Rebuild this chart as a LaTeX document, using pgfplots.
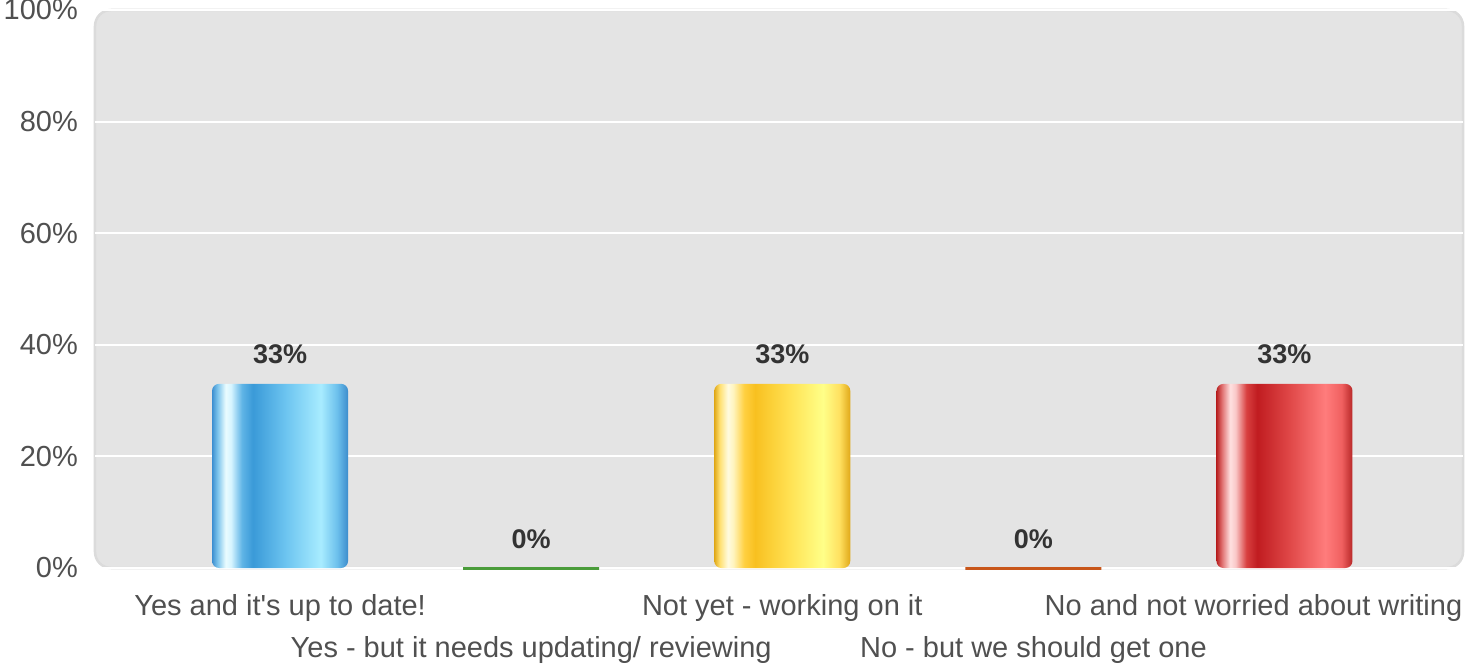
\documentclass[border=0pt]{standalone}
\usepackage{fontspec}
\setmainfont{Liberation Sans}[Ligatures=TeXOff]
\usepackage{pgfplots}
\pgfplotsset{compat=1.18}

\definecolor{plotbg}{HTML}{E4E4E4}
\definecolor{labgray}{HTML}{505050}
\definecolor{valgray}{HTML}{333333}
\definecolor{zgreen}{HTML}{4A9C3A}
\definecolor{zorange}{HTML}{C8561A}

% glossy bar shadings, stops mapped into the middle 25bp..75bp
\pgfdeclarehorizontalshading{blueshade}{100bp}{%
color(0bp)=(rgb,255:red,61;green,143;blue,208);
color(25bp)=(rgb,255:red,61;green,143;blue,208);
color(27bp)=(rgb,255:red,124;green,196;blue,236);
color(30bp)=(rgb,255:red,234;green,252;blue,255);
color(32bp)=(rgb,255:red,214;green,244;blue,255);
color(36bp)=(rgb,255:red,95;green,180;blue,230);
color(40bp)=(rgb,255:red,58;green,154;blue,216);
color(52bp)=(rgb,255:red,108;green,196;blue,240);
color(65bp)=(rgb,255:red,168;green,236;blue,255);
color(71bp)=(rgb,255:red,108;green,192;blue,236);
color(75bp)=(rgb,255:red,60;green,140;blue,204);
color(100bp)=(rgb,255:red,60;green,140;blue,204)}

\pgfdeclarehorizontalshading{yellowshade}{100bp}{%
color(0bp)=(rgb,255:red,224;green,168;blue,24);
color(25bp)=(rgb,255:red,224;green,168;blue,24);
color(27bp)=(rgb,255:red,255;green,224;blue,112);
color(30bp)=(rgb,255:red,255;green,251;blue,224);
color(32bp)=(rgb,255:red,255;green,244;blue,190);
color(36bp)=(rgb,255:red,255;green,208;blue,64);
color(40bp)=(rgb,255:red,248;green,192;blue,32);
color(52bp)=(rgb,255:red,255;green,224;blue,80);
color(65bp)=(rgb,255:red,255;green,255;blue,136);
color(71bp)=(rgb,255:red,255;green,224;blue,96);
color(75bp)=(rgb,255:red,224;green,168;blue,24);
color(100bp)=(rgb,255:red,224;green,168;blue,24)}

\pgfdeclarehorizontalshading{redshade}{100bp}{%
color(0bp)=(rgb,255:red,184;green,32;blue,32);
color(25bp)=(rgb,255:red,184;green,32;blue,32);
color(27bp)=(rgb,255:red,224;green,112;blue,112);
color(30bp)=(rgb,255:red,255;green,224;blue,224);
color(32bp)=(rgb,255:red,250;green,200;blue,200);
color(36bp)=(rgb,255:red,216;green,64;blue,64);
color(40bp)=(rgb,255:red,192;green,28;blue,32);
color(52bp)=(rgb,255:red,224;green,72;blue,72);
color(65bp)=(rgb,255:red,255;green,124;blue,124);
color(71bp)=(rgb,255:red,240;green,96;blue,96);
color(75bp)=(rgb,255:red,184;green,40;blue,40);
color(100bp)=(rgb,255:red,184;green,40;blue,40)}

\begin{document}
\begin{tikzpicture}
\begin{axis}[
  at={(0,0)},
  scale only axis,
  width=1368bp,
  height=558bp,
  xmin=-0.737, xmax=4.711,
  ymin=0, ymax=100,
  ybar,
  bar width=136bp,
  bar shift=0pt,
  axis background/.style={fill=plotbg, draw=black!14, line width=2.5bp, rounded corners=16bp},
  axis line style={draw=none},
  tick style={draw=none},
  major tick length=0pt,
  ytick={0,20,40,60,80,100},
  yticklabel={\pgfmathprintnumber{\tick}\%},
  ymajorgrids,
  major grid style={white, line width=2bp},
  xtick={0,2,4},
  xticklabels={{Yes and it's up to date!},{Not yet - working on it},{\hspace*{-62bp}No and not worried about writing}},
  extra x ticks={1,3},
  extra x tick labels={{Yes - but it needs updating/ reviewing},{No - but we should get one}},
  extra x tick style={grid=none, xticklabel style={yshift=-42bp}},
  /pgf/number format/assume math mode=true,
  tick label style={font=\fontsize{29bp}{34bp}\selectfont, text=labgray},
  xticklabel style={anchor=base, inner sep=0pt, yshift=-47bp},
  yticklabel style={anchor=east, inner sep=0pt, xshift=-17bp},
  nodes near coords={\pgfmathprintnumber[fixed,precision=0]{\pgfplotspointmeta}\%},
  every node near coord/.append style={font=\bfseries\fontsize{27bp}{31bp}\selectfont, text=valgray, anchor=base, inner sep=0pt, yshift=20bp},
  clip=false,
]
\addplot[draw=none, shading=blueshade, rounded corners=7bp] coordinates {(0,33)};
\addplot[draw=zgreen, line width=3bp, fill=none] coordinates {(1,0)};
\addplot[draw=none, shading=yellowshade, rounded corners=7bp] coordinates {(2,33)};
\addplot[draw=zorange, line width=3bp, fill=none] coordinates {(3,0)};
\addplot[draw=none, shading=redshade, rounded corners=7bp] coordinates {(4,33)};
\end{axis}
\pgfresetboundingbox
\path[use as bounding box] (-95bp,-99bp) rectangle (1370bp,568bp);
\end{tikzpicture}
\end{document}
